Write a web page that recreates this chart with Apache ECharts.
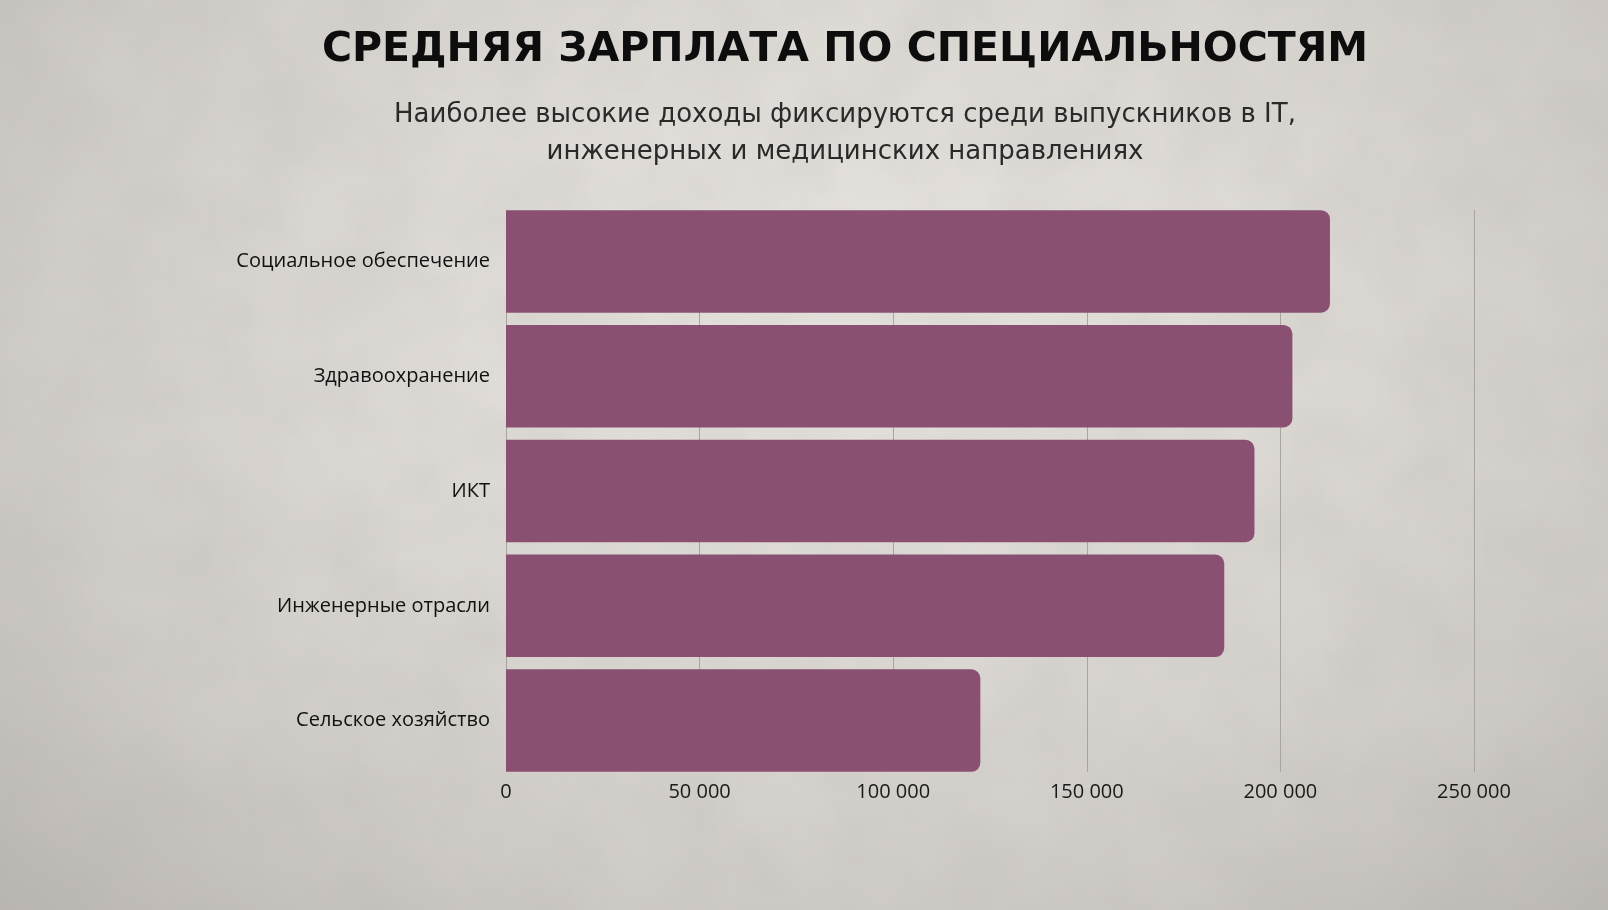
<!DOCTYPE html>
<html>
<head>
<meta charset="utf-8">
<script src="https://cdn.jsdelivr.net/npm/echarts@6/dist/echarts.min.js"></script>
<style>
html,body{margin:0;padding:0;width:1608px;height:910px;overflow:hidden;}
body{position:relative;background:
 radial-gradient(ellipse at 52% 35%, #e6e2de 0%, #dedad5 35%, #cfcbc6 70%, #b9b5b0 100%);}
#tex{position:absolute;left:0;top:0;width:1608px;height:910px;opacity:0.25;pointer-events:none;}
#chart{position:absolute;left:0;top:0;width:1608px;height:910px;}
</style>
</head>
<body>
<svg id="tex" width="1608" height="910" xmlns="http://www.w3.org/2000/svg">
  <filter id="n"><feTurbulence type="fractalNoise" baseFrequency="0.012" numOctaves="5" seed="3"/>
  <feColorMatrix type="matrix" values="0 0 0 0 0.45  0 0 0 0 0.43  0 0 0 0 0.41  1.2 0 0 0 -0.35"/></filter>
  <rect width="1608" height="910" filter="url(#n)"/>
</svg>
<div id="chart"></div>
<script>
var categories = ['Социальное обеспечение','Здравоохранение','ИКТ','Инженерные отрасли','Сельское хозяйство'];
var salaries = [212800, 203100, 193300, 185500, 122500];
var xTicks = {min: 0, max: 250000, interval: 50000};
var titleText = 'СРЕДНЯЯ ЗАРПЛАТА ПО СПЕЦИАЛЬНОСТЯМ';
var subtitleText = 'Наиболее высокие доходы фиксируются среди выпускников в IT,\nинженерных и медицинских направлениях';

function fmt(v){ return String(v).replace(/\B(?=(\d{3})+(?!\d))/g, ' '); }

var chart = echarts.init(document.getElementById('chart'), null, {renderer:'canvas'});
chart.setOption({
  backgroundColor: 'transparent',
  title: [{
    text: titleText,
    left: 840, top: 25, textAlign: 'center',
    textStyle: {fontFamily: 'DejaVu Sans', fontWeight: 'bold', fontSize: 41, color: '#0d0d0d'}
  },{
    text: subtitleText,
    left: 840, top: 92, textAlign: 'center',
    textStyle: {fontFamily: 'DejaVu Sans', fontWeight: 'normal', fontSize: 26, color: '#2a2a2a', lineHeight: 37}
  }],
  grid: [
    {left: 506, right: 134, top: 204, bottom: 132, containLabel: false},
    {left: 506, right: 134, top: 210, bottom: 138, containLabel: false}
  ],
  xAxis: [{
    gridIndex: 0,
    type: 'value', min: xTicks.min, max: xTicks.max, interval: xTicks.interval,
    axisLine: {show: false}, axisTick: {show: false}, axisLabel: {show: false},
    splitLine: {show: false}
  },{
    gridIndex: 1,
    type: 'value', min: xTicks.min, max: xTicks.max, interval: xTicks.interval,
    axisLine: {show: false}, axisTick: {show: false},
    splitLine: {show: true, lineStyle: {color: '#a8a4a0', width: 1}},
    axisLabel: {margin: 10, fontFamily: 'Open Sans', fontSize: 20, color: '#1a1a1a', formatter: fmt}
  }],
  yAxis: [{
    gridIndex: 0,
    type: 'category', data: categories, inverse: true,
    axisLine: {show: false}, axisTick: {show: false},
    axisLabel: {margin: 16, fontFamily: 'Open Sans', fontSize: 20, color: '#111'}
  },{
    gridIndex: 1, type: 'value', show: false
  }],
  series: [{
    type: 'bar', data: salaries, barCategoryGap: '10.7%', xAxisIndex: 0, yAxisIndex: 0, z: 3,
    itemStyle: {color: '#8a5071', borderRadius: [0, 9, 9, 0]}
  }]
});
</script>
</body>
</html>
